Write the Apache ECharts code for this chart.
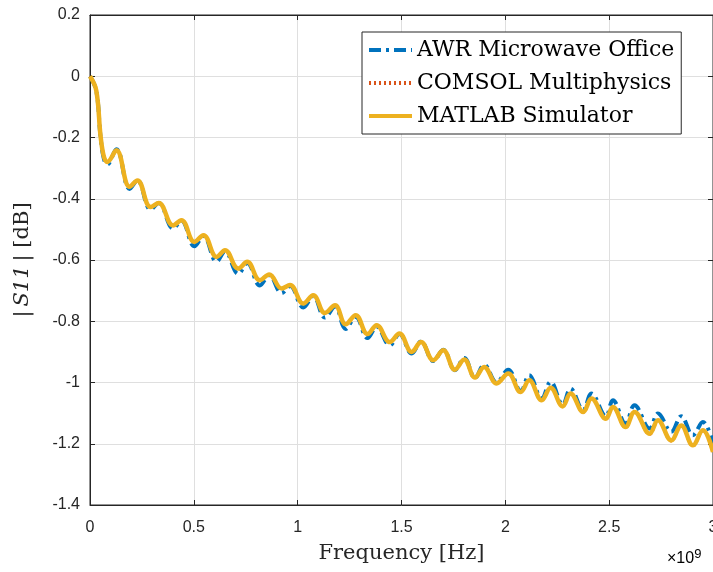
<!DOCTYPE html>
<html>
<head>
<meta charset="utf-8">
<script src="https://cdn.jsdelivr.net/npm/echarts@6/dist/echarts.min.js"></script>
<style>
	html, body { margin: 0; padding: 0; background: #fff; }
	#chart { width: 713px; height: 572px; }
</style>
</head>
<body>
<div id="chart"></div>
<script>
	// frequency in units of 1e9 Hz (axis shows x10^9)
	var freq = [0, 0.030, 0.051, 0.067, 0.083, 0.127, 0.191, 0.228, 0.292, 0.331, 0.400, 0.440,
		0.503, 0.546, 0.610, 0.650, 0.714, 0.757, 0.818, 0.863, 0.923, 0.963, 1.027, 1.075,
		1.131, 1.180, 1.231, 1.279, 1.337, 1.380, 1.444, 1.490, 1.549, 1.594, 1.653, 1.701,
		1.757, 1.802, 1.854, 1.898, 1.958, 2.014, 2.074, 2.115, 2.175, 2.218, 2.276, 2.314,
		2.375, 2.415, 2.484, 2.518, 2.579, 2.622, 2.695, 2.735, 2.799, 2.847, 2.903, 2.951, 3.0];

	var awr = [0, -0.046, -0.200, -0.270, -0.288, -0.238, -0.368, -0.340, -0.435, -0.414, -0.497, -0.472,
		-0.555, -0.522, -0.605, -0.572, -0.645, -0.610, -0.683, -0.650, -0.708, -0.685, -0.755, -0.718,
		-0.788, -0.752, -0.825, -0.785, -0.855, -0.818, -0.878, -0.842, -0.905, -0.866, -0.930, -0.893,
		-0.960, -0.920, -0.985, -0.942, -1.000, -0.958, -1.028, -0.976, -1.052, -0.998, -1.072, -1.020,
		-1.090, -1.036, -1.110, -1.058, -1.134, -1.074, -1.150, -1.101, -1.161, -1.110, -1.172, -1.129, -1.198];

	var comsol = [0, -0.046, -0.196, -0.263, -0.280, -0.242, -0.361, -0.340, -0.427, -0.414, -0.487, -0.470,
		-0.541, -0.519, -0.590, -0.568, -0.628, -0.606, -0.666, -0.647, -0.693, -0.682, -0.742, -0.715,
		-0.773, -0.748, -0.810, -0.780, -0.842, -0.813, -0.868, -0.840, -0.900, -0.868, -0.927, -0.895,
		-0.958, -0.925, -0.984, -0.949, -1.003, -0.971, -1.031, -0.993, -1.058, -1.017, -1.078, -1.036,
		-1.098, -1.052, -1.120, -1.080, -1.147, -1.097, -1.169, -1.124, -1.191, -1.142, -1.207, -1.157, -1.229];

	var matlab = [0, -0.046, -0.196, -0.263, -0.280, -0.242, -0.361, -0.340, -0.427, -0.414, -0.487, -0.470,
		-0.541, -0.519, -0.590, -0.568, -0.628, -0.606, -0.666, -0.647, -0.693, -0.682, -0.742, -0.715,
		-0.773, -0.748, -0.810, -0.780, -0.842, -0.813, -0.868, -0.840, -0.900, -0.868, -0.927, -0.895,
		-0.958, -0.925, -0.984, -0.949, -1.003, -0.971, -1.031, -0.993, -1.058, -1.017, -1.078, -1.036,
		-1.096, -1.052, -1.118, -1.080, -1.145, -1.096, -1.167, -1.123, -1.189, -1.140, -1.205, -1.156, -1.227];

	var xMin = 0, xMax = 3, xStep = 0.5;
	var yMin = -1.4, yMax = 0.2, yStep = 0.2;

	function pairs(ys) {
		return freq.map(function (f, i) { return [f, ys[i]]; });
	}

	var axisCol = '#262626';
	var gridCol = '#dfdfdf';
	var tickFont = 'Liberation Sans, Arial, sans-serif';
	var texFont = 'DejaVu Serif, Liberation Serif, serif';

	var myChart = echarts.init(document.getElementById('chart'));
	myChart.setOption({
		animation: false,
		grid: { left: 90, right: 0, top: 15, bottom: 67, show: true, borderColor: axisCol, borderWidth: 1,
			outerBoundsMode: 'none' },
		legend: {
			orient: 'vertical',
			left: 362,
			top: 32,
			padding: [7, 7, 7, 5],
			itemGap: 11,
			itemWidth: 43,
			itemHeight: 14,
			backgroundColor: '#fff',
			borderColor: axisCol,
			borderWidth: 1,
			borderRadius: 0,
			itemStyle: { color: 'rgba(0,0,0,0)', borderWidth: 0, opacity: 0 },
			lineStyle: { width: 4 },
			textStyle: { fontFamily: texFont, fontSize: 22, lineHeight: 22, color: '#000' },
			data: ['AWR Microwave Office', 'COMSOL Multiphysics', 'MATLAB Simulator']
		},
		xAxis: [{
			type: 'value', min: xMin, max: xMax, interval: xStep,
			axisLine: { show: true, onZero: false, lineStyle: { color: axisCol } },
			axisTick: { inside: true, length: 5, lineStyle: { color: axisCol } },
			axisLabel: { color: axisCol, fontFamily: tickFont, fontSize: 16, margin: 15,
				formatter: function (v) { return String(+v.toFixed(1)); } },
			splitLine: { show: true, lineStyle: { color: gridCol } },
			name: 'Frequency [Hz]', nameLocation: 'middle', nameGap: 38,
			nameTextStyle: { fontFamily: texFont, fontSize: 21, color: axisCol }
		}, {
			type: 'value', position: 'top', min: xMin, max: xMax, interval: xStep,
			axisLine: { show: true, onZero: false, lineStyle: { color: axisCol } },
			axisTick: { inside: true, length: 5, lineStyle: { color: axisCol } },
			axisLabel: { show: false }, splitLine: { show: false }
		}],
		yAxis: [{
			type: 'value', min: yMin, max: yMax, interval: yStep,
			axisLine: { show: true, onZero: false, lineStyle: { color: axisCol } },
			axisTick: { inside: true, length: 5, lineStyle: { color: axisCol } },
			axisLabel: { color: axisCol, fontFamily: tickFont, fontSize: 16, margin: 10,
				formatter: function (v) { return String(+v.toFixed(1)); } },
			splitLine: { show: true, lineStyle: { color: gridCol } },
			name: '{v||}{i|S11}{v|| [dB]}', nameLocation: 'middle', nameGap: 57,
			nameTextStyle: {
				rich: {
					v: { fontFamily: texFont, fontSize: 21, color: axisCol },
					i: { fontFamily: texFont, fontSize: 21, fontStyle: 'italic', color: axisCol, padding: [0, 4, 0, 4] }
				}
			}
		}, {
			type: 'value', position: 'right', min: yMin, max: yMax, interval: yStep,
			axisLine: { show: true, onZero: false, lineStyle: { color: axisCol } },
			axisTick: { inside: true, length: 5, lineStyle: { color: axisCol } },
			axisLabel: { show: false }, splitLine: { show: false }
		}],
		graphic: [{
			type: 'text', left: 667, top: 548,
			style: {
				text: '{a|×10}{b|9}',
				rich: {
					a: { fontFamily: tickFont, fontSize: 16, color: axisCol },
					b: { fontFamily: tickFont, fontSize: 13, color: axisCol, verticalAlign: 'top', padding: [0, 0, 8, 0] }
				}
			}
		}],
		series: [{
			name: 'AWR Microwave Office', type: 'line', smooth: 0.4, symbol: 'none',
			lineStyle: { color: '#0072BD', width: 4, type: [12, 5, 3, 5] },
			itemStyle: { color: '#0072BD' },
			data: pairs(awr)
		}, {
			name: 'COMSOL Multiphysics', type: 'line', smooth: 0.4, symbol: 'none',
			lineStyle: { color: '#D95319', width: 3, type: [2, 3] },
			itemStyle: { color: '#D95319' },
			data: pairs(comsol)
		}, {
			name: 'MATLAB Simulator', type: 'line', smooth: 0.4, symbol: 'none',
			lineStyle: { color: '#EDB120', width: 4.5 },
			itemStyle: { color: '#EDB120' },
			data: pairs(matlab)
		}]
	});
</script>
</body>
</html>
